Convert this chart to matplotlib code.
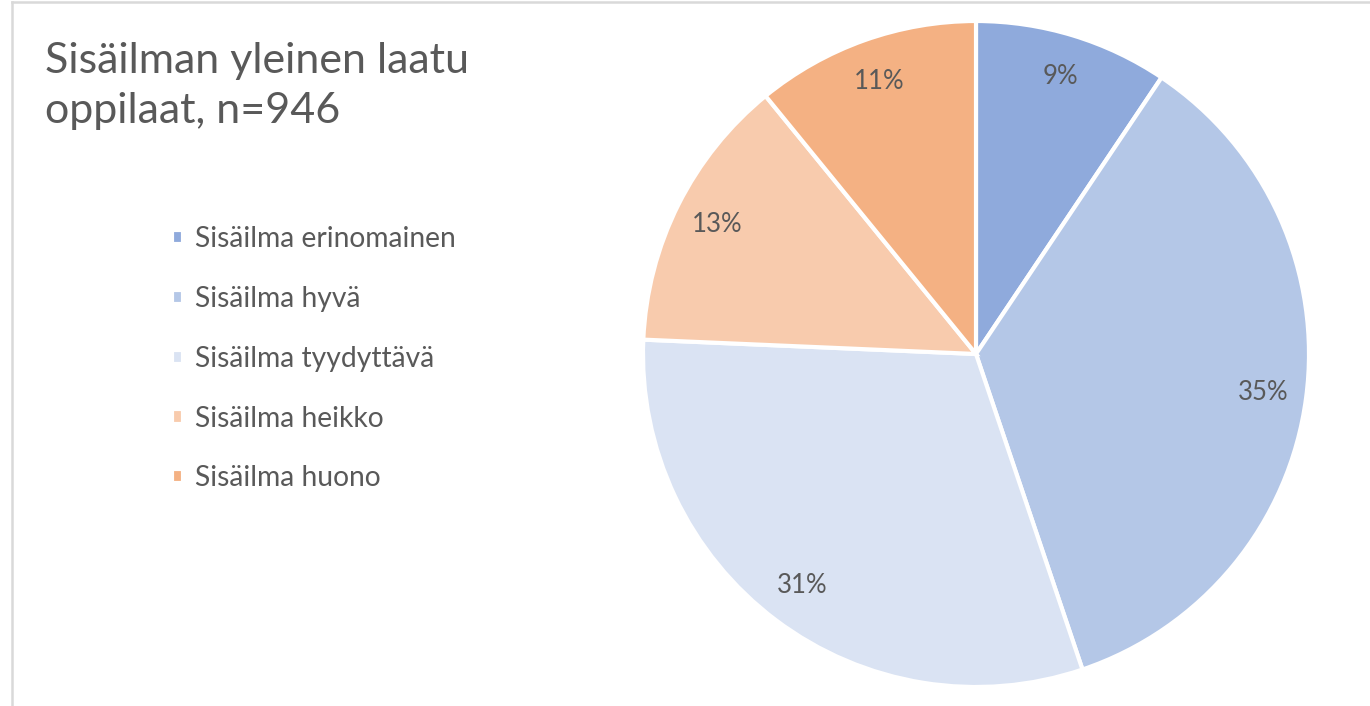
import matplotlib
matplotlib.use("Agg")
import matplotlib.pyplot as plt
from matplotlib.lines import Line2D

# answer counts (n=946)
categories = ["Sisäilma erinomainen", "Sisäilma hyvä", "Sisäilma tyydyttävä",
              "Sisäilma heikko", "Sisäilma huono"]
counts = [89, 335, 292, 127, 103]
colors = ["#8FAADC", "#B4C7E7", "#DAE3F3", "#F8CBAD", "#F4B183"]
title = "Sisäilman yleinen laatu\noppilaat, n=946"

TEXT = "#595959"
plt.rcParams["font.family"] = ["Lato", "DejaVu Sans"]

W, H = 1370, 706
fig = plt.figure(figsize=(W / 100, H / 100), dpi=100)

# pie centred at (976, 354) px with radius 333 px
cx, cy, r = 976, 354, 333
ax = fig.add_axes([(cx - r) / W, (H - cy - r) / H, 2 * r / W, 2 * r / H])
wedges, texts, autotexts = ax.pie(
    counts, colors=colors, startangle=90, counterclock=False,
    autopct=lambda p: f"{p:.0f}%", pctdistance=0.87,
    wedgeprops=dict(edgecolor="white", linewidth=3),
    textprops=dict(color=TEXT, fontsize=18.5))
ax.set_xlim(-1, 1)
ax.set_ylim(-1, 1)
ax.set_aspect("equal")

fig.text(45 / W, 1 - 42 / H, title, ha="left", va="top", fontsize=31,
         color=TEXT, linespacing=1.4)

fig.legend(wedges, categories, loc="upper left",
           bbox_to_anchor=(158 / W, 1 - 212 / H), frameon=False,
           fontsize=20.3, labelcolor=TEXT, handlelength=0.4, handleheight=0.4,
           handletextpad=0.4, labelspacing=1.2, borderpad=0)

# thin grey frame on the top and left like the original screenshot
fig.add_artist(Line2D([11.5 / W, 11.5 / W], [0, 1 - 2 / H], color="#d9d9d9", lw=1.8))
fig.add_artist(Line2D([11.5 / W, 1], [1 - 2 / H, 1 - 2 / H], color="#d9d9d9", lw=1.8))

fig.savefig("out.png", dpi=100)
